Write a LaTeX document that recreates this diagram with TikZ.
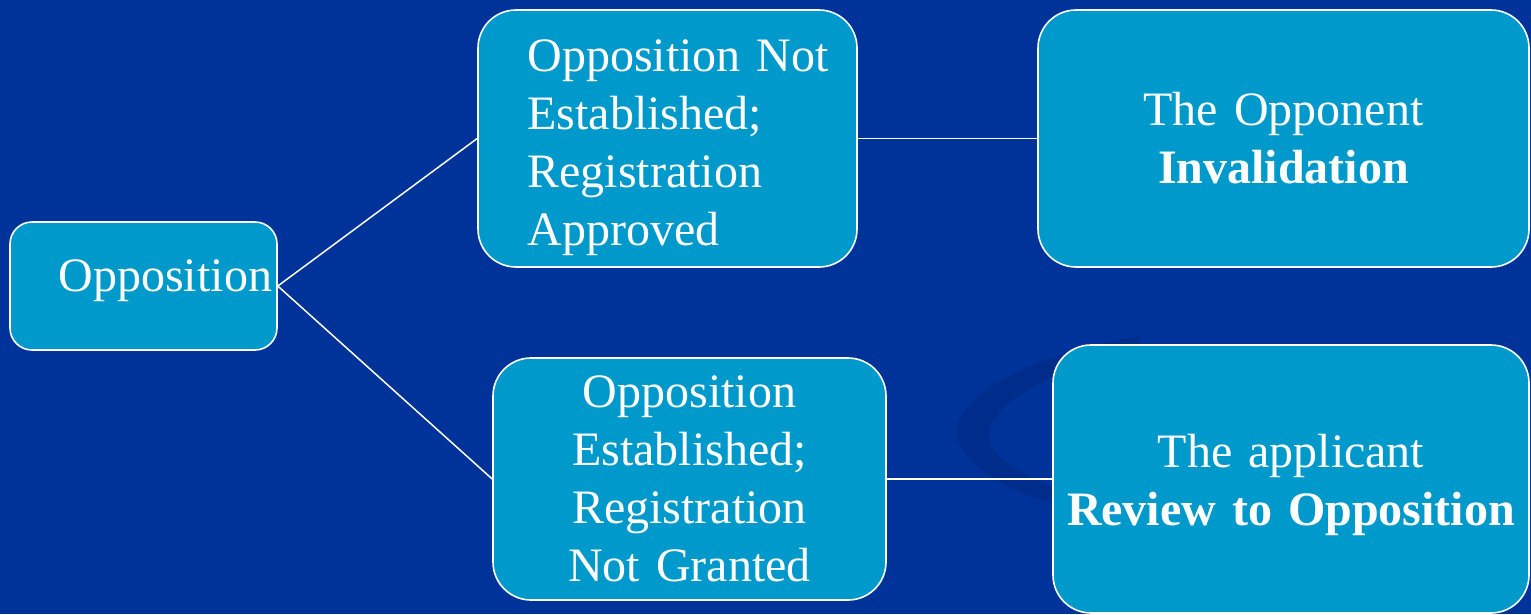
\documentclass[tikz,border=0pt]{standalone}
\usepackage{fontspec}
\setmainfont{Liberation Serif}
\definecolor{bg}{RGB}{0,51,153}
\definecolor{boxc}{RGB}{0,153,204}
\definecolor{swoosh}{RGB}{0,45,140}
\begin{document}
\begin{tikzpicture}[x=1pt,y=-1pt,
  box/.style={draw=white, line width=1.6pt, fill=boxc, rounded corners=38pt,
    text=white, font=\fontsize{48}{58}\selectfont, inner sep=0pt},
  link/.style={draw=white, line width=1.5pt}]
\fill[bg] (0,0) rectangle (1531,614);
\useasboundingbox (0,0) rectangle (1531,614);
% background swoosh
\fill[swoosh] (1140,336) .. controls (1020,355) and (945,405) .. (958,440)
  .. controls (970,472) and (1015,492) .. (1055,504) -- (1055,488)
  .. controls (1012,470) and (982,452) .. (990,428)
  .. controls (1000,398) and (1060,368) .. (1140,344) -- cycle;
% boxes
\node[box, rounded corners=22pt, minimum width=267pt, minimum height=128pt,
  text width=257pt, align=right] (opp) at (143.5,286)
  {\rule[-20pt]{0pt}{20pt}Opposition};
\node[box, minimum width=379pt, minimum height=257pt, text width=330pt,
  align=left] (ne) at (667.5,138.5)
  {\rule{0pt}{50pt}\hspace*{25pt}Opposition Not\\\hspace*{25pt}Established;\\
   \hspace*{25pt}Registration\\\hspace*{25pt}Approved};
\node[box, minimum width=491pt, minimum height=257pt, text width=470pt,
  align=center] (inv) at (1283.5,138.5) {The Opponent\\\textbf{Invalidation}};
\node[box, minimum width=393pt, minimum height=242pt, text width=370pt,
  align=center] (est) at (689.5,479)
  {Opposition\\Established;\\Registration\\Not Granted};
\node[box, minimum width=476pt, minimum height=268pt, text width=460pt,
  align=center] (rev) at (1291,479)
  {\rule{0pt}{45pt}The applicant\\\textbf{Review to Opposition}};
% connectors
\draw[link] (opp.east) -- (ne.west);
\draw[link] (opp.east) -- (est.west);
\draw[link] (ne.east) -- (inv.west);
\draw[link] (est.east) -- (rev.west);
\end{tikzpicture}
\end{document}
